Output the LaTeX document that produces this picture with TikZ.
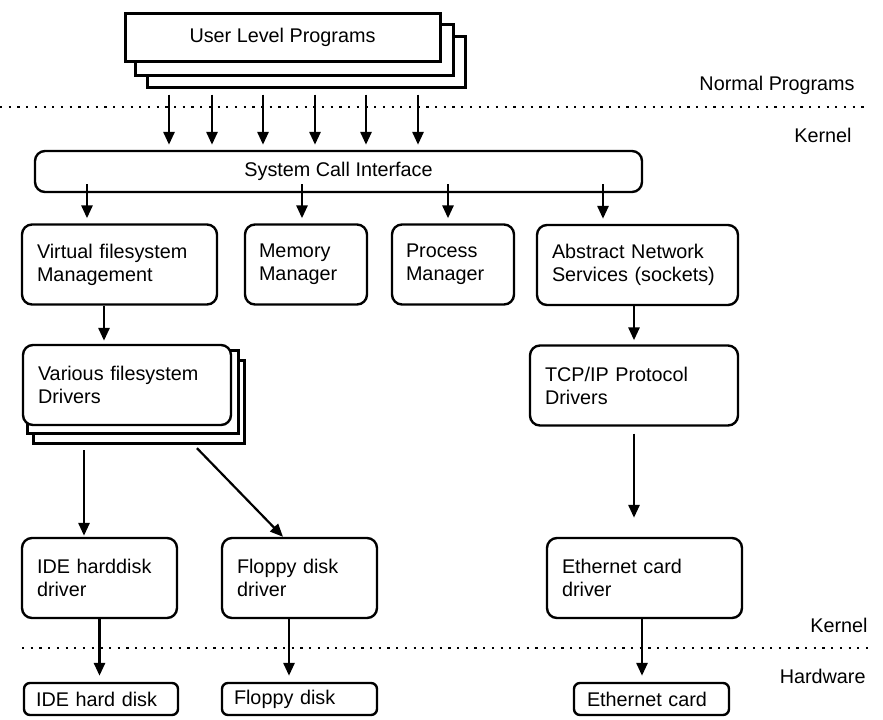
\documentclass[tikz,border=0pt]{standalone}
\usepackage{fontspec}
\setmainfont{Liberation Sans}
\usetikzlibrary{arrows.meta, positioning, backgrounds}

\begin{document}
\begin{tikzpicture}[x=0.5pt, y=-0.5pt,
    font=\fontsize{9.9}{11.5}\selectfont,
    arr/.style={-{Triangle[length=6.5pt,width=5.5pt]}, line width=1.4pt},
    layer/.style={draw, line width=1.2pt, fill=white},
    sep/.style={line width=1.1pt, dash pattern=on 1.1pt off 3.25pt},
    tag/.style={anchor=base east, inner sep=0pt}]
  \tikzstyle{box}=[draw, line width=1.2pt, fill=white, rounded corners=5pt,
    align=left, inner xsep=7.5pt, inner ysep=0pt, minimum height=40pt]
  \tikzstyle{hwbox}=[draw, line width=1.2pt, fill=white, rounded corners=3pt,
    align=left, inner xsep=6pt, inner ysep=0pt, minimum height=16pt]
  \useasboundingbox (0,0) rectangle (883,719);

  % Separators
  \draw[sep] (0,107) -- (867,107);
  \draw[sep] (22,648) -- (868,648);
  \node[tag] (normal) at (855,90) {Normal Programs};
  \node[tag] (kernelA) at (852,142) {Kernel};
  \node[tag] (kernelB) at (868,632) {Kernel};
  \node[tag] (hardware) at (866,683) {Hardware};

  % Blocks
  \node[draw, line width=1.5pt, fill=white, minimum width=157.5pt, minimum height=24pt] (ulp) at (282.5,37) {User Level Programs};
  \node[box, minimum width=303.5pt, minimum height=20.5pt, align=center] (sci) at (338.5,171.5) {System Call Interface};
  \node[box, text width=82.5pt] (vfs) at (119.5,264.5) {Virtual filesystem\\Management};
  \node[box, text width=47pt, inner xsep=7pt] (mem) at (306,264.5) {Memory\\Manager};
  \node[box, text width=47pt, inner xsep=7pt] (proc) at (453,264.5) {Process\\Manager};
  \node[box, text width=85.5pt] (ans) at (637.5,265) {Abstract Network\\Services (sockets)};
  \node[box, text width=89pt] (vfd) at (127,385) {Various filesystem\\Drivers};
  \node[box, text width=89pt] (tcp) at (634,385.5) {TCP/IP Protocol\\Drivers};
  \node[box, text width=62.5pt] (ided) at (99.5,578) {IDE harddisk\\driver};
  \node[box, text width=62.5pt] (flpd) at (299.5,578) {Floppy disk\\driver};
  \node[box, text width=82.5pt] (ethd) at (644.5,578) {Ethernet card\\driver};
  \node[hwbox, text width=65pt] (ide) at (101,699) {IDE hard disk};
  \node[hwbox, text width=65.5pt] (flp) at (299.5,699) {Floppy disk};
  \node[hwbox, text width=64.5pt, inner xsep=6.5pt] (eth) at (651.5,699) {Ethernet card};

  % Stacked copies
  \begin{scope}[on background layer]
    \draw[layer, line width=1.5pt] ([shift={(24,25)}]ulp.north west) rectangle ([shift={(24,25)}]ulp.south east);
    \draw[layer, line width=1.5pt] ([shift={(12,13)}]ulp.north west) rectangle ([shift={(12,13)}]ulp.south east);
    \draw[layer, line width=1.5pt] ([shift={(12,17)}]vfd.north west) rectangle ([shift={(12,17)}]vfd.south east);
    \draw[layer, line width=1.5pt] ([shift={(6,7)}]vfd.north west) rectangle ([shift={(6,7)}]vfd.south east);
  \end{scope}

  % Calls
  \foreach \d in {-56.75,-35.25,-9.75,16.25,41.75,67.75}
    \draw[arr, shorten <=16pt, shorten >=2.5pt] ([xshift=\d pt]ulp.south) -- ([xshift=\d pt]ulp.south |- sci.north);
  \draw[arr, shorten <=-4.5pt, shorten >=2.5pt] ([xshift=-16.25pt]vfs.north |- sci.south) -- ([xshift=-16.25pt]vfs.north);
  \draw[arr, shorten <=-4.5pt, shorten >=2.5pt] ([xshift=-2pt]mem.north |- sci.south) -- ([xshift=-2pt]mem.north);
  \draw[arr, shorten <=-4.5pt, shorten >=2.5pt] ([xshift=-2.5pt]proc.north |- sci.south) -- ([xshift=-2.5pt]proc.north);
  \draw[arr, shorten <=-4.5pt, shorten >=2.5pt] ([xshift=-17.25pt]ans.north |- sci.south) -- ([xshift=-17.25pt]ans.north);

  % Drivers
  \draw[arr, shorten >=1.5pt] ([xshift=-7.75pt]vfs.south) -- ([xshift=-7.75pt]vfs.south |- vfd.north);
  \draw[arr, shorten >=2pt] (ans.south -| tcp.north) -- (tcp.north);
  \draw[arr, shorten <=3.5pt, shorten >=9.5pt] (tcp.south) -- (tcp.south |- ethd.north);
  \draw[arr, shorten <=12pt, shorten >=.5pt] ([xshift=-7.75pt]ided.north |- vfd.south) -- ([xshift=-7.75pt]ided.north);
  \draw[arr, line width=1.1pt] ([shift={(70,22)}]vfd.south) -- ([xshift=-8.25pt]flpd.north);

  % Hardware
  \draw[arr, shorten >=3pt] (ided.south) -- (ided.south |- ide.north);
  \draw[arr, shorten >=3pt] ([xshift=-5.25pt]flpd.south) -- ([xshift=-5.25pt]flpd.south |- flp.north);
  \draw[arr, shorten >=3pt] ([xshift=-1.25pt]ethd.south) -- ([xshift=-1.25pt]ethd.south |- eth.north);
\end{tikzpicture}
\end{document}
